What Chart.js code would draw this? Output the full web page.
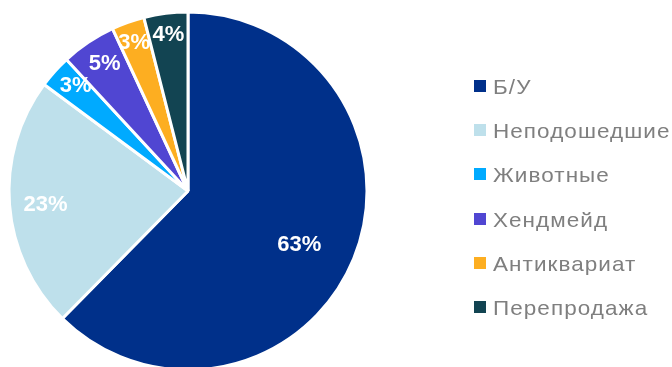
<!DOCTYPE html>
<html lang="ru">
<head>
<meta charset="utf-8">
<script src="https://cdn.jsdelivr.net/npm/chart.js@4"></script>
<style>
  html, body { margin: 0; padding: 0; background: #ffffff; }
  #wrap { position: relative; width: 672px; height: 367px; overflow: hidden; }
  #chart { position: absolute; left: 0; top: 0; }
  #legend { position: absolute; left: 474px; top: 0; margin: 0; padding: 0; list-style: none;
            font-family: "Liberation Sans", Arial, sans-serif; font-size: 21px; color: #7f7f7f; }
  #legend li { position: absolute; left: 0; white-space: nowrap; height: 24px; line-height: 24px; }
  #legend .sw { position: absolute; left: 0; top: 4px; width: 12px; height: 12px; }
  #legend .tx { position: absolute; left: 19px; top: -1px; letter-spacing: 1px;
                transform: scaleX(1.07); transform-origin: 0 50%; }
</style>
</head>
<body>
<div id="wrap">
  <canvas id="chart" width="672" height="367"></canvas>
  <ul id="legend"></ul>
</div>
<script>
// Share of listings by category, %
const categories = ['Б/У', 'Неподошедшие', 'Животные', 'Хендмейд', 'Антиквариат', 'Перепродажа'];
const shares = [63, 23, 3, 5, 3, 4];
const colors = ['#00308a', '#bee0eb', '#00aaff', '#5046d2', '#fdae21', '#124452'];

// Where each percentage label sits inside its slice (fraction of radius, angle nudge in degrees)
const labelRadius = [0.69, 0.80, 0.86, 0.85, 0.88, 0.88];
const labelNudge = [3.4, -1.1, 1.3, 0.6, -0.4, 0];

const sliceLabels = {
  id: 'sliceLabels',
  afterDatasetsDraw(chart) {
    const ctx = chart.ctx;
    const meta = chart.getDatasetMeta(0);
    const values = chart.data.datasets[0].data;
    ctx.save();
    ctx.font = 'bold 22px "Liberation Sans", Arial, sans-serif';
    ctx.fillStyle = '#ffffff';
    ctx.textAlign = 'center';
    ctx.textBaseline = 'middle';
    meta.data.forEach((arc, i) => {
      const p = arc.getProps(['x', 'y', 'startAngle', 'endAngle', 'outerRadius'], true);
      const mid = (p.startAngle + p.endAngle) / 2 + labelNudge[i] * Math.PI / 180;
      const r = p.outerRadius * labelRadius[i];
      ctx.fillText(values[i] + '%', p.x + Math.cos(mid) * r, p.y + Math.sin(mid) * r);
    });
    ctx.restore();
  }
};

const chart = new Chart(document.getElementById('chart'), {
  type: 'pie',
  data: {
    labels: categories,
    datasets: [{
      data: shares,
      backgroundColor: colors,
      borderColor: '#ffffff',
      borderWidth: 3
    }]
  },
  options: {
    responsive: false,
    animation: false,
    radius: 179,
    layout: { padding: { left: 0, right: 296, top: 15, bottom: 0 } },
    plugins: {
      legend: { display: false },
      tooltip: { enabled: false }
    }
  },
  plugins: [sliceLabels]
});

// Legend built from the chart's own label items
const legendRowsTop = 76;
const legendRowStep = 44.2;
const ul = document.getElementById('legend');
chart.options.plugins.legend.labels.generateLabels(chart).forEach((item, i) => {
  const li = document.createElement('li');
  li.style.top = (legendRowsTop + i * legendRowStep) + 'px';
  const sw = document.createElement('span');
  sw.className = 'sw';
  sw.style.background = item.fillStyle;
  const tx = document.createElement('span');
  tx.className = 'tx';
  tx.textContent = item.text;
  li.appendChild(sw);
  li.appendChild(tx);
  ul.appendChild(li);
});
</script>
</body>
</html>
